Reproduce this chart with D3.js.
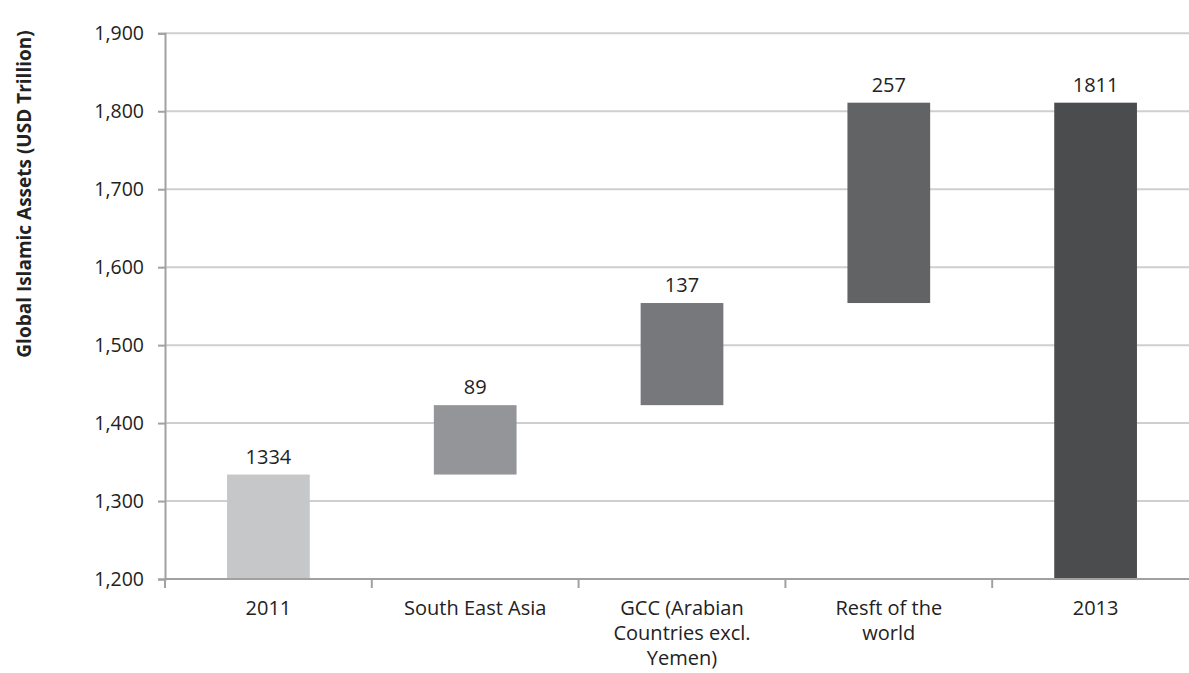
<!DOCTYPE html>
<html>
<head>
<meta charset="utf-8">
<script src="https://cdn.jsdelivr.net/npm/d3@7"></script>
<style>
  body { margin: 0; background: #fff; }
  svg { display: block; font-family: "Open Sans", sans-serif; }
</style>
</head>
<body>
<div class="view"></div>
<script>
// categories (line breaks as in the original labels)
var categories = ["2011", "South East Asia", "GCC (Arabian\nCountries excl.\nYemen)", "Resft of the\nworld", "2013"];
// floating bar extents
var barStart = [1200, 1334, 1423, 1554, 1200];
var barEnd = [1334, 1423, 1554, 1811, 1811];
// value labels printed above the bars
var valueLabels = ["1334", "89", "137", "257", "1811"];
var yTicks = [1200, 1300, 1400, 1500, 1600, 1700, 1800, 1900];
var barColors = ["#c6c7c9", "#939598", "#77787b", "#626365", "#4b4c4e"];

var data = categories.map(function(c, i) {
  return { cat: c, lo: barStart[i], hi: barEnd[i], label: valueLabels[i], color: barColors[i] };
});

var width = 1189, height = 673;
var margin = { top: 33.3, left: 165, bottom: 94, right: -10 };

var svg = d3.select('.view')
  .append('svg')
  .attr('width', width)
  .attr('height', height);

var x = d3.scaleBand()
  .domain(categories)
  .range([margin.left, width - margin.right])
  .paddingInner(0.6)
  .paddingOuter(0.3);

var y = d3.scaleLinear()
  .domain([1200, 1900])
  .range([height - margin.bottom, margin.top]);

// gridlines
svg.append("g")
  .selectAll("line")
  .data(yTicks.slice(1))
  .enter()
  .append("line")
  .attr("x1", margin.left)
  .attr("x2", width)
  .attr("y1", function(d) { return y(d); })
  .attr("y2", function(d) { return y(d); })
  .attr("stroke", "#cfcfd0")
  .attr("stroke-width", 2);

// bars
svg.selectAll(".bar")
  .data(data)
  .enter()
  .append("rect")
  .attr("class", "bar")
  .attr("x", function(d) { return x(d.cat); })
  .attr("y", function(d) { return y(d.hi); })
  .attr("width", x.bandwidth())
  .attr("height", function(d) { return y(d.lo) - y(d.hi); })
  .attr("fill", function(d) { return d.color; });

// value labels
svg.selectAll(".val")
  .data(data)
  .enter()
  .append("text")
  .attr("class", "val")
  .attr("x", function(d) { return x(d.cat) + x.bandwidth() / 2; })
  .attr("y", function(d) { return y(d.hi) - 11; })
  .attr("text-anchor", "middle")
  .attr("font-size", "20px")
  .attr("fill", "#222")
  .text(function(d) { return d.label; });

// y axis
var yAxis = svg.append("g")
  .attr("transform", "translate(" + margin.left + ",0)")
  .call(d3.axisLeft(y).tickValues(yTicks).tickSize(7).tickPadding(14).tickFormat(d3.format(",")));
yAxis.select(".domain").attr("stroke", "#a0a1a3").attr("stroke-width", 2);
yAxis.selectAll(".tick line").attr("stroke", "#a0a1a3").attr("stroke-width", 2);
yAxis.selectAll(".tick text").attr("font-size", "19.5px").attr("fill", "#222").attr("font-family", "Open Sans, sans-serif");

// x axis line and boundary ticks
var x0 = y(1200);
svg.append("line")
  .attr("x1", margin.left)
  .attr("x2", width)
  .attr("y1", x0)
  .attr("y2", x0)
  .attr("stroke", "#a0a1a3")
  .attr("stroke-width", 2);

var step = x.step();
var bounds = d3.range(categories.length).map(function(i) { return x(categories[i]) - step * 0.3; });
svg.append("g")
  .selectAll("line")
  .data(bounds)
  .enter()
  .append("line")
  .attr("x1", function(d) { return d; })
  .attr("x2", function(d) { return d; })
  .attr("y1", x0)
  .attr("y2", x0 + 9)
  .attr("stroke", "#a0a1a3")
  .attr("stroke-width", 2);

// category labels
var catText = svg.selectAll(".cat")
  .data(data)
  .enter()
  .append("text")
  .attr("class", "cat")
  .attr("text-anchor", "middle")
  .attr("font-size", "20px")
  .attr("fill", "#222")
  .attr("transform", function(d) { return "translate(" + (x(d.cat) + x.bandwidth() / 2) + "," + (x0 + 36) + ")"; });

catText.selectAll("tspan")
  .data(function(d) { return d.cat.split("\n"); })
  .enter()
  .append("tspan")
  .attr("x", 0)
  .attr("dy", function(d, i) { return i === 0 ? 0 : 25; })
  .text(function(d) { return d; });

// y axis title
svg.append("text")
  .attr("transform", "translate(31," + 194 + ") rotate(-90)")
  .attr("text-anchor", "middle")
  .attr("font-size", "19px")
  .attr("font-weight", "bold")
  .attr("fill", "#222")
  .text("Global Islamic Assets (USD Trillion)");
</script>
</body>
</html>
